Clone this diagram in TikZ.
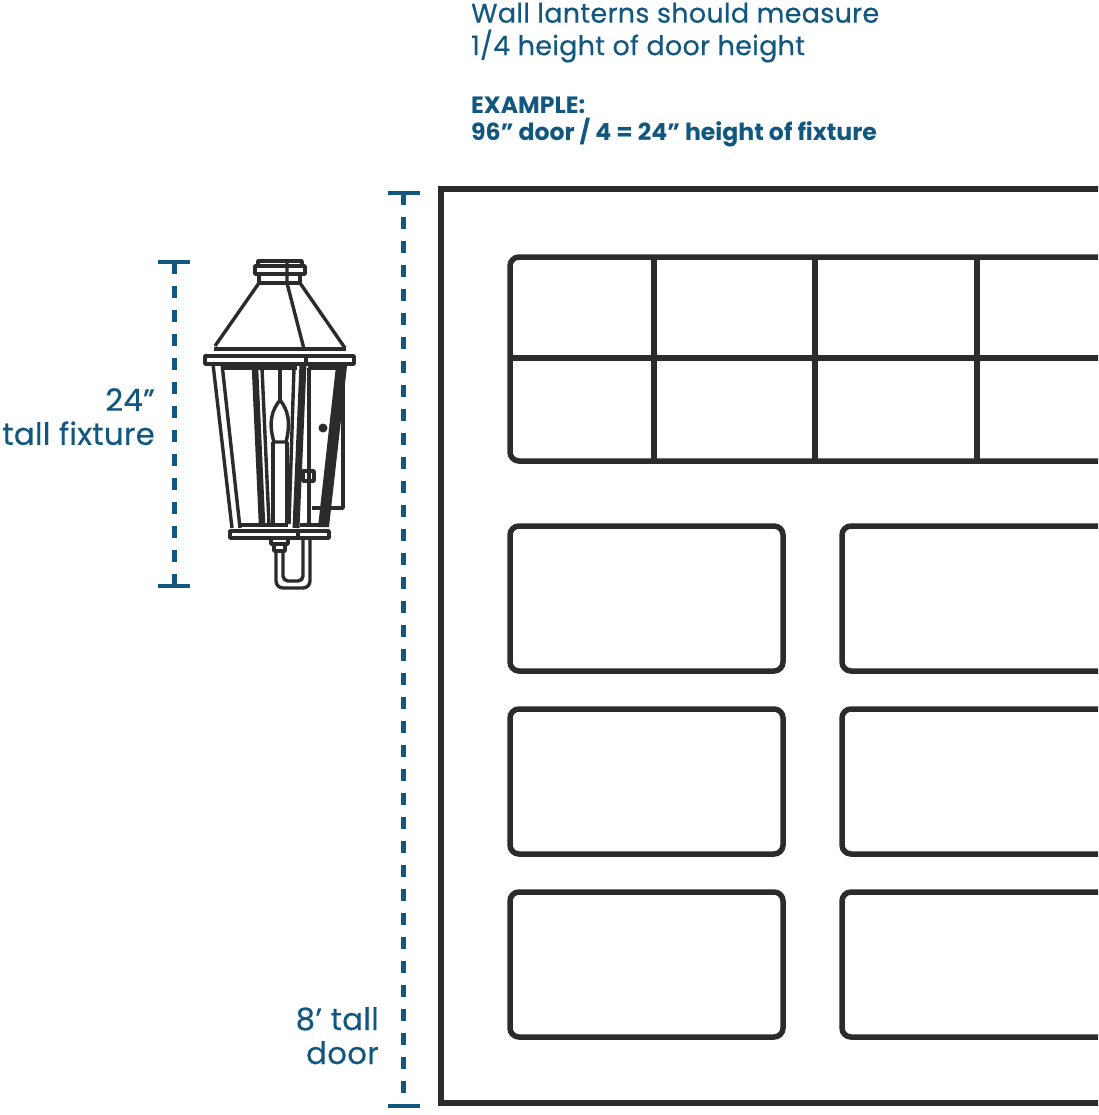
\documentclass[tikz,border=0pt]{standalone}
\usepackage{fontspec}
\setmainfont{Poppins}
\newfontfamily\notefont[FakeBold=0.35,LetterSpace=1.0]{Poppins}
\definecolor{dimblue}{HTML}{11577F}
\definecolor{inkdark}{HTML}{2B2B2B}
\tikzstyle{dimline} = [draw=dimblue, line width=5pt, dash pattern=on 12pt off 12pt]
\tikzstyle{dimtick} = [draw=dimblue, line width=4.5pt]
\tikzstyle{door} = [draw=inkdark, line width=5.5pt]
\tikzstyle{panel} = [draw=inkdark, line width=5.5pt, rounded corners=9pt]
\tikzstyle{lamp} = [draw=inkdark, line width=3.4pt, line join=round]
\tikzstyle{lampthick} = [draw=inkdark, line width=6.5pt]
\tikzstyle{note} = [text=dimblue, inner sep=0pt, font=\notefont\fontsize{27}{32.5}\selectfont]
\tikzstyle{dimnote} = [text=dimblue, inner sep=0pt, font=\notefont\fontsize{30.8}{34}\selectfont]
\begin{document}
\begin{tikzpicture}[x=1pt,y=-1pt]

    \clip (0,0) rectangle (1098,1115);

    % Testi
    \node[note, anchor=north west, align=left] (rule) at (471,2.5) {Wall lanterns should measure\\1/4 height of door height};
    \node[note, anchor=north west, align=left, font=\fontsize{23.6}{27}\selectfont\bfseries] (example) at (471,97) {EXAMPLE:\\96” door / 4 = 24” height of fixture};
    \node[dimnote, anchor=north east, align=right] (fixturelabel) at (155,388) {24”\\tall fixture};
    \node[dimnote, anchor=north east, align=right] (doorlabel) at (379,1007) {8’ tall\\door};

    % Quote
    \draw[dimtick] (158,262) -- (190,262);
    \draw[dimtick] (158,586) -- (190,586);
    \draw[dimline] (174,262) -- (174,586);
    \draw[dimtick] (388,193) -- (420,193);
    \draw[dimtick] (388,1106) -- (420,1106);
    \draw[dimline] (403.5,193) -- (403.5,1106);

    % Porta
    \draw[door] (1110,189) -- (441,189) -- (441,1103) -- (1110,1103);

    % Finestra
    \draw[panel] (1110,257) -- (510,257) -- (510,461) -- (1110,461);
    \draw[door] (510,358) -- (1110,358);
    \draw[door] (654,257) -- (654,461);
    \draw[door] (815,257) -- (815,461);
    \draw[door] (977,257) -- (977,461);

    % Pannelli
    \draw[panel] (510,526) rectangle (783,671);
    \draw[panel] (510,709) rectangle (783,854);
    \draw[panel] (510,892) rectangle (783,1037);
    \draw[panel] (1110,526) -- (842,526) -- (842,671) -- (1110,671);
    \draw[panel] (1110,709) -- (842,709) -- (842,854) -- (1110,854);
    \draw[panel] (1110,892) -- (842,892) -- (842,1037) -- (1110,1037);

    % Lanterna: cappello
    \draw[lamp] (258,266) -- (258,261) -- (302,261) -- (302,266);
    \draw[lamp] (255,266) rectangle (305,274);
    \draw[lamp] (259,274) -- (259,283) -- (300,283) -- (300,274);
    \draw[lamp] (287,261) -- (287,283) -- (304,349);
    \draw[lamp] (259,283) -- (215,346);
    \draw[lamp] (300,283) -- (345,348);
    \draw[lampthick, line width=4pt] (214,349) -- (346,349);
    \draw[lamp] (205,356) rectangle (354,364);
    \draw[lamp] (306,356) -- (306,364);

    % Lanterna: corpo
    \draw[lamp] (213,364) -- (232,528);
    \draw[lamp] (222,364) -- (240,528);
    \draw[lamp] (222,368) -- (297,368);
    \draw[lamp] (308,368) -- (342,368);
    \draw[lampthick] (255,368) -- (262,524);
    \draw[lamp] (262,368) -- (269,524);
    \draw[lampthick, line width=7pt] (303,364) -- (296,528);
    \draw[lamp] (294,368) -- (289,524);
    \draw[lamp] (309,368) -- (309,524);
    \fill[inkdark] (336,366) -- (347,366) -- (329,527) -- (318,527) -- cycle;
    \draw[lamp] (343,368) -- (343,508) -- (312,508);
    \fill[inkdark] (323,428) circle (4.5);
    \draw[lamp] (303,471) rectangle (314,481);

    % Lanterna: candela
    \draw[lamp] (280,368) -- (280,400);
    \draw[lamp] (280,400) .. controls (272,410) and (268,422) .. (274,442) -- (286,442) .. controls (291,422) and (288,410) .. (280,400);
    \draw[lamp] (273,442) -- (273,524);
    \draw[lamp] (287,442) -- (287,524);

    % Lanterna: base e gancio
    \draw[lamp] (240,525) -- (288,525);
    \draw[lamp] (300,525) -- (323,525);
    \draw[lamp] (230,531) rectangle (329,538);
    \draw[lamp] (298,531) -- (298,538);
    \draw[lamp] (271,539) -- (271,544) -- (288,544) -- (288,539);
    \draw[lamp] (274,545) -- (274,551) -- (285,551) -- (285,545);
    \draw[lamp, rounded corners=7pt] (276,551) -- (276,588) -- (310,588) -- (310,539);
    \draw[lamp, rounded corners=5pt] (283,551) -- (283,581) -- (303,581) -- (303,539);

\end{tikzpicture}
\end{document}
